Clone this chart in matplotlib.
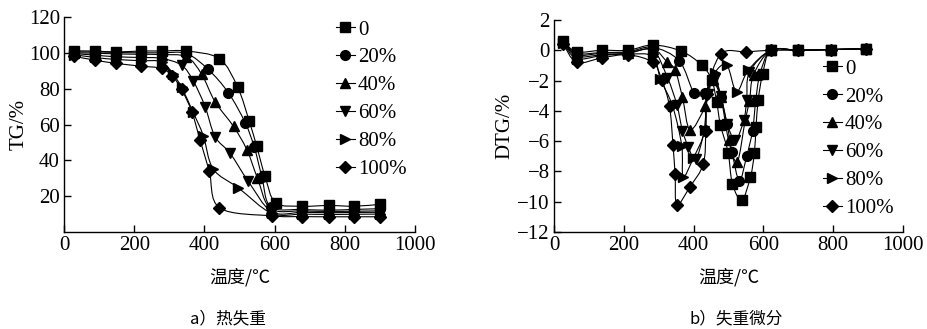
import matplotlib
matplotlib.use("Agg")
import matplotlib.pyplot as plt
from matplotlib.path import Path
from matplotlib.patches import PathPatch
from matplotlib.lines import Line2D

plt.rcParams['font.family'] = ['Liberation Serif', 'Noto Sans CJK SC']

labels = ['0', '20%', '40%', '60%', '80%', '100%']
markers = ['s', 'o', '^', 'v', '>', 'D']

# ---- TG data (temperature, %) ----
tg_x0 = [28, 88, 149, 218, 278, 349, 443, 495, 528, 549, 573, 603, 678, 754, 827, 899]
tg_y0 = [101.1, 101, 100.5, 101, 101, 101, 96.7, 80.7, 61.7, 47.8, 31, 16.3, 14.4, 14.8, 14.4, 15.4]
tg_x20 = [28, 88, 149, 218, 278, 349, 411, 468, 516, 542, 564, 589, 678, 754, 827, 899]
tg_y20 = [100.5, 100.5, 100.2, 100, 100, 99.6, 90.7, 77.8, 61.1, 47.4, 30.7, 14, 12.6, 12.2, 12.6, 13]
tg_x40 = [28, 88, 149, 218, 278, 349, 392, 430, 483, 521, 551, 589, 678, 754, 827, 899]
tg_y40 = [100, 99.8, 99.4, 99.2, 99, 97.8, 88.1, 72.8, 58.9, 45.9, 30.2, 13, 11.8, 11.5, 11.6, 11.8]
tg_x60 = [28, 88, 149, 218, 278, 335, 368, 402, 430, 473, 525, 592, 678, 754, 827, 899]
tg_y60 = [99.6, 98.7, 97.8, 97.4, 96.9, 93.1, 84.4, 70, 53.3, 44, 28.3, 11.3, 11, 10.8, 10.9, 11]
tg_x80 = [28, 88, 149, 218, 278, 311, 335, 367, 397, 425, 497, 592, 678, 754, 827, 899]
tg_y80 = [99, 97.4, 96.3, 95.6, 95, 88.1, 80.7, 67.2, 53.7, 35.2, 24.6, 10.4, 10, 9.8, 9.9, 10]
tg_x100 = [28, 88, 149, 218, 278, 309, 335, 364, 388, 414, 443, 592, 678, 754, 827, 899]
tg_y100 = [98.1, 95.9, 94.1, 92.6, 91.3, 87, 79.6, 67.2, 51.1, 33.9, 13.5, 9, 8.6, 8.5, 8.5, 8.5]

# ---- DTG data (temperature, %/min) ----
dtg_x0 = [27, 65, 137, 212, 283, 364, 423, 452, 466, 477, 499, 511, 538, 563, 574, 579, 585, 598, 622, 700, 795, 895]
dtg_y0 = [0.6, -0.1, 0.0, 0.0, 0.35, -0.05, -0.97, -1.96, -3.4, -4.93, -6.76, -8.8, -9.9, -8.35, -6.8, -5.05, -3.3, -1.55, 0, 0, 0.05, 0.1]
dtg_x20 = [27, 65, 137, 212, 283, 359, 401, 432, 452, 478, 496, 510, 531, 552, 569, 578, 590, 622, 700, 795, 895]
dtg_y20 = [0.6, -0.2, -0.15, -0.1, 0.2, -0.7, -2.8, -2.85, -1.9, -3.1, -4.9, -6.7, -8.6, -7.0, -5.3, -3.35, -1.6, 0, 0, 0.05, 0.1]
dtg_x40 = [27, 65, 137, 212, 283, 325, 347, 368, 390, 433, 455, 478, 500, 525, 548, 560, 572, 622, 700, 795, 895]
dtg_y40 = [0.55, -0.3, -0.2, -0.15, 0.1, -0.8, -1.3, -3.1, -5.25, -3.7, -1.9, -3.1, -5.9, -7.35, -4.6, -3.35, -1.6, 0, 0, 0.05, 0.1]
dtg_x60 = [27, 65, 137, 212, 283, 325, 352, 368, 385, 406, 430, 440, 460, 478, 497, 520, 544, 552, 560, 622, 700, 795, 895]
dtg_y60 = [0.5, -0.4, -0.3, -0.2, 0.0, -1.8, -3.6, -5.3, -6.4, -7.2, -5.3, -2.9, -1.8, -3.0, -4.9, -5.95, -4.6, -3.3, -1.45, 0, 0, 0.05, 0.1]
dtg_x80 = [27, 65, 137, 212, 283, 305, 340, 366, 370, 399, 433, 438, 460, 495, 523, 557, 622, 700, 795, 895]
dtg_y80 = [0.45, -0.55, -0.35, -0.25, -0.4, -1.9, -3.7, -6.3, -8.35, -7.13, -5.27, -2.9, -1.5, -0.97, -2.73, -1.3, 0, 0, 0.05, 0.1]
dtg_x100 = [27, 65, 137, 212, 283, 309, 331, 341, 347, 352, 390, 428, 435, 437, 478, 551, 622, 700, 795, 895]
dtg_y100 = [0.4, -0.8, -0.5, -0.3, -0.8, -1.96, -3.7, -6.27, -8.2, -10.2, -9.0, -7.5, -5.3, -2.9, -0.25, -0.11, 0, 0, 0.05, 0.1]

tg_series = [(tg_x0, tg_y0), (tg_x20, tg_y20), (tg_x40, tg_y40),
             (tg_x60, tg_y60), (tg_x80, tg_y80), (tg_x100, tg_y100)]
dtg_series = [(dtg_x0, dtg_y0), (dtg_x20, dtg_y20), (dtg_x40, dtg_y40),
              (dtg_x60, dtg_y60), (dtg_x80, dtg_y80), (dtg_x100, dtg_y100)]


def smooth_path(xs, ys):
    """Catmull-Rom curve through the data points as cubic Bezier path."""
    pts = list(zip(xs, ys))
    n = len(pts)
    verts = [pts[0]]
    codes = [Path.MOVETO]
    for i in range(n - 1):
        p0 = pts[i - 1] if i > 0 else pts[i]
        p1 = pts[i]
        p2 = pts[i + 1]
        p3 = pts[i + 2] if i + 2 < n else pts[i + 1]
        t = 1 / 6
        c1 = (p1[0] + (p2[0] - p0[0]) * t, p1[1] + (p2[1] - p0[1]) * t)
        c2 = (p2[0] - (p3[0] - p1[0]) * t, p2[1] - (p3[1] - p1[1]) * t)
        verts += [c1, c2, p2]
        codes += [Path.CURVE4] * 3
    return Path(verts, codes)


W, H = 927, 329
fig = plt.figure(figsize=(W / 100, H / 100), dpi=100)


def frac(x0, x1, ytop, ybot):
    return [x0 / W, 1 - ybot / H, (x1 - x0) / W, (ybot - ytop) / H]


ax1 = fig.add_axes(frac(64, 415, 17, 232))
ax2 = fig.add_axes(frac(554, 903, 20, 232))

cjk = ['Noto Sans CJK SC', 'DejaVu Sans']
FS = 15

leg_handles = {}
for ax, series in ((ax1, tg_series), (ax2, dtg_series)):
    handles = []
    for (xs, ys), m, lab in zip(series, markers, labels):
        ms = 6 if m == 'D' else 7
        ax.add_patch(PathPatch(smooth_path(xs, ys), facecolor='none',
                               edgecolor='black', lw=0.8))
        ax.plot(xs, ys, ls='none', marker=m, ms=ms,
                markerfacecolor='black', markeredgecolor='black')
        handles.append(Line2D([], [], color='black', lw=0.8, marker=m, ms=ms,
                              markerfacecolor='black', label=lab))
    leg_handles[ax] = handles
    ax.spines['top'].set_visible(False)
    ax.spines['right'].set_visible(False)
    for s in ('left', 'bottom'):
        ax.spines[s].set_linewidth(1.0)
    ax.set_xlim(0, 1000)
    ax.set_xticks([0, 200, 400, 600, 800, 1000])
    ax.tick_params(direction='in', length=5, width=1, labelsize=FS, pad=3)
    ax.set_xlabel('温度/℃', family=cjk, fontsize=13, labelpad=9)

ax1.set_ylim(0, 120)
ax1.set_yticks([20, 40, 60, 80, 100, 120])
ax1.set_ylabel('TG/%', fontsize=FS, labelpad=0)

ax2.set_ylim(-12, 2)
ax2.set_yticks(list(range(-12, 3, 2)))
ax2.set_ylabel('DTG/%', fontsize=FS, labelpad=2)

leg_kw = dict(frameon=False, fontsize=FS, handlelength=0.9, handletextpad=0.15,
              labelspacing=0.4, borderpad=0, borderaxespad=0)
ax1.legend(handles=leg_handles[ax1], loc='upper left',
           bbox_to_anchor=(336 / W, 1 - 20 / H),
           bbox_transform=fig.transFigure, **leg_kw)
ax2.legend(handles=leg_handles[ax2], loc='upper left',
           bbox_to_anchor=(823 / W, 1 - 59 / H),
           bbox_transform=fig.transFigure, **leg_kw)

fig.text(228 / W, 1 - 319 / H, 'a）热失重', family=cjk, fontsize=12,
         ha='center', va='center')
fig.text(736 / W, 1 - 319 / H, 'b）失重微分', family=cjk, fontsize=12,
         ha='center', va='center')

fig.savefig('out.png', dpi=100)
